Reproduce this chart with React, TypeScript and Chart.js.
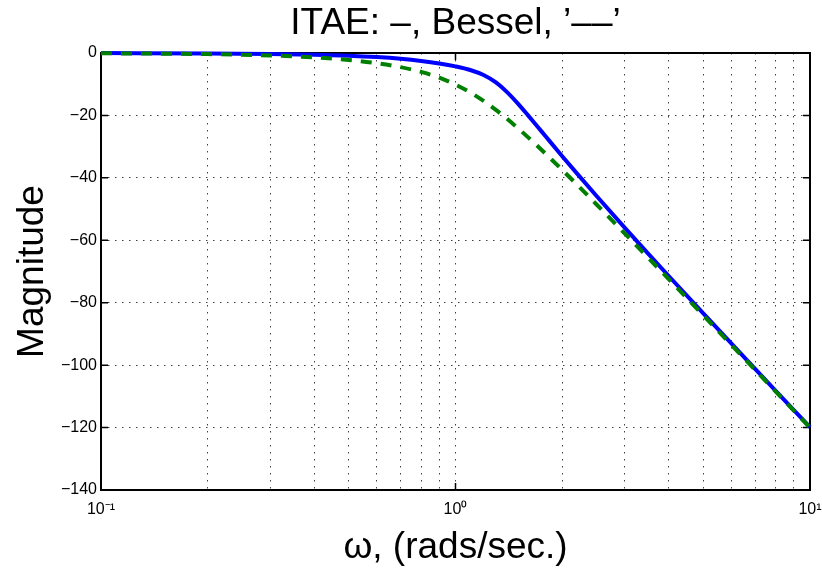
import React, { useEffect, useRef } from "react";
import { Chart, registerables } from "chart.js";

Chart.register(...registerables);

// Frequency points (rad/s)
const omega = [0.1, 0.2, 0.3, 0.4, 0.5, 0.6, 0.7, 0.8, 0.9, 1.0, 1.1, 1.2, 1.3, 1.4, 1.5, 1.6, 1.7, 1.8, 2.0, 2.2, 2.5, 3.0, 3.5, 4.0, 5.0, 7.0, 10.0];
// ITAE prototype magnitude (dB), solid blue
const itaeMag = [-0.03, -0.13, -0.29, -0.53, -0.86, -1.3, -1.85, -2.53, -3.34, -4.29, -5.44, -7.06, -9.44, -12.6, -16.2, -19.89, -23.46, -26.85, -33.06, -38.57, -45.82, -55.93, -64.33, -71.52, -83.41, -101.18, -119.89];
// Bessel prototype magnitude (dB), dashed green
const besselMag = [-0.09, -0.35, -0.78, -1.41, -2.22, -3.25, -4.52, -6.06, -7.92, -10.12, -12.62, -15.36, -18.24, -21.17, -24.09, -26.95, -29.72, -32.4, -37.47, -42.15, -48.53, -57.77, -65.66, -72.52, -84.05, -101.5, -120.04];

// Axis ticks
const xGridTicks = [0.1, 0.2, 0.3, 0.4, 0.5, 0.6, 0.7, 0.8, 0.9, 1, 2, 3, 4, 5, 6, 7, 8, 9, 10];
const xMajorTicks = [0.1, 1, 10];
const xMajorLabels = ["10\u207B\u00B9", "10\u2070", "10\u00B9"];
const yTicks = [0, -20, -40, -60, -80, -100, -120, -140];

const titleText = "ITAE: \u2013, Bessel, \u2019\u2013\u2013\u2019";
const xTitle = "\u03C9, (rads/sec.)";
const yTitle = "Magnitude";

const FONT = "'Liberation Sans', Arial, Helvetica, sans-serif";
const BIG = 37;

const framePlugin = {
  id: "frame",
  beforeDatasetsDraw(chart: any) {
    const { ctx, chartArea, scales } = chart;
    const { left, right, top, bottom } = chartArea;
    ctx.save();
    ctx.strokeStyle = "#000";
    ctx.lineWidth = 2;
    ctx.strokeRect(left, top, right - left, bottom - top);
    ctx.lineWidth = 1.5;
    ctx.beginPath();
    yTicks.forEach((v) => {
      const y = scales.y.getPixelForValue(v);
      ctx.moveTo(left, y);
      ctx.lineTo(left + 7, y);
      ctx.moveTo(right, y);
      ctx.lineTo(right - 7, y);
    });
    xMajorTicks.forEach((v) => {
      const x = scales.x.getPixelForValue(v);
      ctx.moveTo(x, bottom);
      ctx.lineTo(x, bottom - 7);
      ctx.moveTo(x, top);
      ctx.lineTo(x, top + 7);
    });
    ctx.stroke();
    ctx.restore();
  },
};

export default function App() {
  const canvasRef = useRef<HTMLCanvasElement | null>(null);

  useEffect(() => {
    const canvas = canvasRef.current;
    if (!canvas) return;
    Chart.defaults.font.family = FONT;
    Chart.defaults.color = "#000";

    const chart = new Chart(canvas, {
      type: "line",
      data: {
        datasets: [
          {
            label: "Bessel",
            data: omega.map((w, i) => ({ x: w, y: besselMag[i] })),
            borderColor: "#008000",
            borderWidth: 4,
            borderDash: [11, 9],
            pointRadius: 0,
            fill: false,
            cubicInterpolationMode: "monotone",
            clip: false,
          },
          {
            label: "ITAE",
            data: omega.map((w, i) => ({ x: w, y: itaeMag[i] })),
            borderColor: "#0000ff",
            borderWidth: 4,
            pointRadius: 0,
            fill: false,
            cubicInterpolationMode: "monotone",
            clip: false,
          },
        ],
      },
      options: {
        responsive: false,
        animation: false,
        devicePixelRatio: 1,
        layout: { padding: { left: 0, right: 12, top: 0, bottom: 0 } },
        plugins: {
          legend: { display: false },
          tooltip: { enabled: false },
          title: { display: false },
        },
        scales: {
          x: {
            type: "logarithmic",
            position: "bottom",
            min: 0.1,
            max: 10,
            afterBuildTicks: (scale: any) => {
              scale.ticks = xGridTicks.map((v) => ({ value: v }));
            },
            afterFit: (scale: any) => {
              scale.height = 83;
              scale.paddingLeft = 0;
              scale.paddingRight = 0;
            },
            ticks: {
              autoSkip: false,
              maxRotation: 0,
              padding: 10,
              font: { size: 16 },
              color: "#000",
              callback: (value: any) => {
                const idx = xMajorTicks.findIndex((m) => Math.abs(Math.log10(m) - Math.log10(Number(value))) < 1e-6);
                return idx >= 0 ? xMajorLabels[idx] : "";
              },
            },
            grid: {
              color: "rgba(0,0,0,0.75)",
              lineWidth: 1,
              drawTicks: false,
            },
            border: { display: false, dash: [1.5, 5.5] },
            title: {
              display: true,
              text: xTitle,
              color: "#000",
              font: { size: BIG, family: FONT },
              padding: { top: 0, bottom: 3 },
            },
          },
          xTop: {
            type: "logarithmic",
            position: "top",
            min: 0.1,
            max: 10,
            afterFit: (scale: any) => {
              scale.height = 53;
              scale.paddingLeft = 0;
              scale.paddingRight = 0;
            },
            ticks: { display: false },
            grid: { display: false, drawTicks: false },
            border: { display: false },
            title: {
              display: true,
              text: titleText,
              color: "#000",
              font: { size: BIG, family: FONT },
              padding: { top: 2, bottom: 0 },
            },
          },
          y: {
            type: "linear",
            min: -140,
            max: 0,
            afterBuildTicks: (scale: any) => {
              scale.ticks = yTicks.slice().reverse().map((v) => ({ value: v }));
            },
            afterFit: (scale: any) => {
              scale.width = 101;
              scale.paddingTop = 0;
              scale.paddingBottom = 0;
            },
            ticks: {
              padding: 4,
              font: { size: 16 },
              color: "#000",
              callback: (value: any) => (Number(value) === 0 ? "0" : "\u2212" + Math.abs(Number(value))),
            },
            grid: {
              color: "rgba(0,0,0,0.75)",
              lineWidth: 1,
              drawTicks: false,
            },
            border: { display: false, dash: [1.5, 5.5] },
            title: {
              display: true,
              text: yTitle,
              color: "#000",
              font: { size: BIG, family: FONT },
              padding: { top: 11, bottom: 0 },
            },
          },
        },
      } as any,
      plugins: [framePlugin],
    });
    return () => chart.destroy();
  }, []);

  return (
    <div style={{ position: "absolute", left: 0, top: 0, width: 822, height: 573, background: "#fff" }}>
      <canvas ref={canvasRef} width={822} height={573} style={{ display: "block" }} />
    </div>
  );
}
